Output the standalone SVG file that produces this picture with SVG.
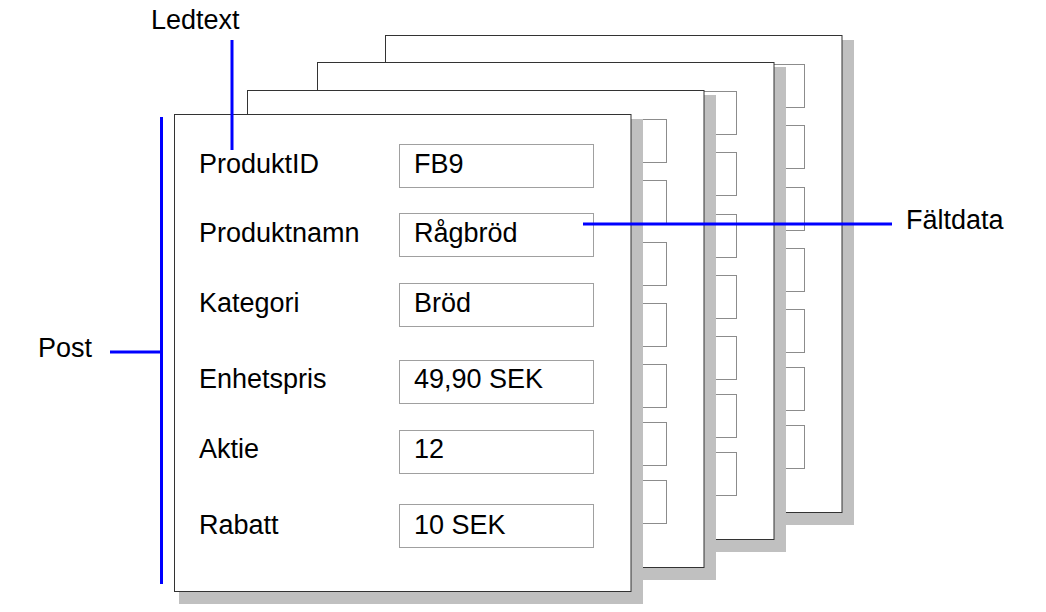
<svg xmlns="http://www.w3.org/2000/svg" width="1046" height="612" viewBox="0 0 1046 612">
<style>
.shadow{fill:#c0c0c0;stroke:none}
.page{fill:#fff;stroke:#333;stroke-width:1}
.box{fill:#fff;stroke:#a0a0a0;stroke-width:1}
.bbox{fill:#fff;stroke:#8c8c8c;stroke-width:1}
.t{font-family:"Liberation Sans",Arial,sans-serif;font-size:27px;fill:#000}
.call{stroke:#0000ff;stroke-width:3;fill:none}
</style>
<defs>
<g id="backboxes">
<rect class="bbox" x="225.5" y="29.5" width="194" height="43"/>
<rect class="bbox" x="225.5" y="90.5" width="194" height="43"/>
<rect class="bbox" x="225.5" y="152.5" width="194" height="43"/>
<rect class="bbox" x="225.5" y="213.5" width="194" height="43"/>
<rect class="bbox" x="225.5" y="274.5" width="194" height="43"/>
<rect class="bbox" x="225.5" y="332.5" width="194" height="43"/>
<rect class="bbox" x="225.5" y="390.5" width="194" height="43"/>
</g>
<g id="backsheet">
<rect class="shadow" x="5" y="5" width="464" height="485"/>
<rect class="page" x="0.5" y="0.5" width="456.5" height="477"/>
<use href="#backboxes"/>
</g>
</defs>
<g id="page4" transform="translate(385,35)"><use href="#backsheet"/></g>
<g id="page3" transform="translate(317,62)"><use href="#backsheet"/></g>
<g id="page2" transform="translate(247,90)"><use href="#backsheet"/></g>
<g id="page1" transform="translate(174,114)">
<rect class="shadow" x="5" y="5" width="464" height="485"/>
<rect class="page" x="0.5" y="0.5" width="456.5" height="477"/>
<rect class="box" x="225.5" y="30.5" width="194" height="43"/>
<rect class="box" x="225.5" y="99.5" width="194" height="43"/>
<rect class="box" x="225.5" y="169.5" width="194" height="43"/>
<rect class="box" x="225.5" y="246.5" width="194" height="43"/>
<rect class="box" x="225.5" y="316.5" width="194" height="43"/>
<rect class="box" x="225.5" y="390.5" width="194" height="43"/>
<text class="t" x="25" y="59">ProduktID</text>
<text class="t" x="25" y="128">Produktnamn</text>
<text class="t" x="25" y="198">Kategori</text>
<text class="t" x="25" y="274">Enhetspris</text>
<text class="t" x="25" y="344">Aktie</text>
<text class="t" x="25" y="420">Rabatt</text>
<text class="t" x="240" y="59">FB9</text>
<text class="t" x="240" y="128">Rågbröd</text>
<text class="t" x="240" y="198">Bröd</text>
<text class="t" x="240" y="274">49,90 SEK</text>
<text class="t" x="240" y="344">12</text>
<text class="t" x="240" y="420">10 SEK</text>
</g>
<g id="connectors">
<line class="call" x1="232" y1="40" x2="232" y2="150"/>
<line class="call" x1="161.5" y1="117" x2="161.5" y2="584"/>
<line class="call" x1="110" y1="352" x2="161.5" y2="352"/>
<line class="call" x1="583" y1="224" x2="892" y2="224"/>
</g>
<g id="labels">
<text class="t" x="151" y="29">Ledtext</text>
<text class="t" x="38" y="357">Post</text>
<text class="t" x="906" y="229">Fältdata</text>
</g>
</svg>
